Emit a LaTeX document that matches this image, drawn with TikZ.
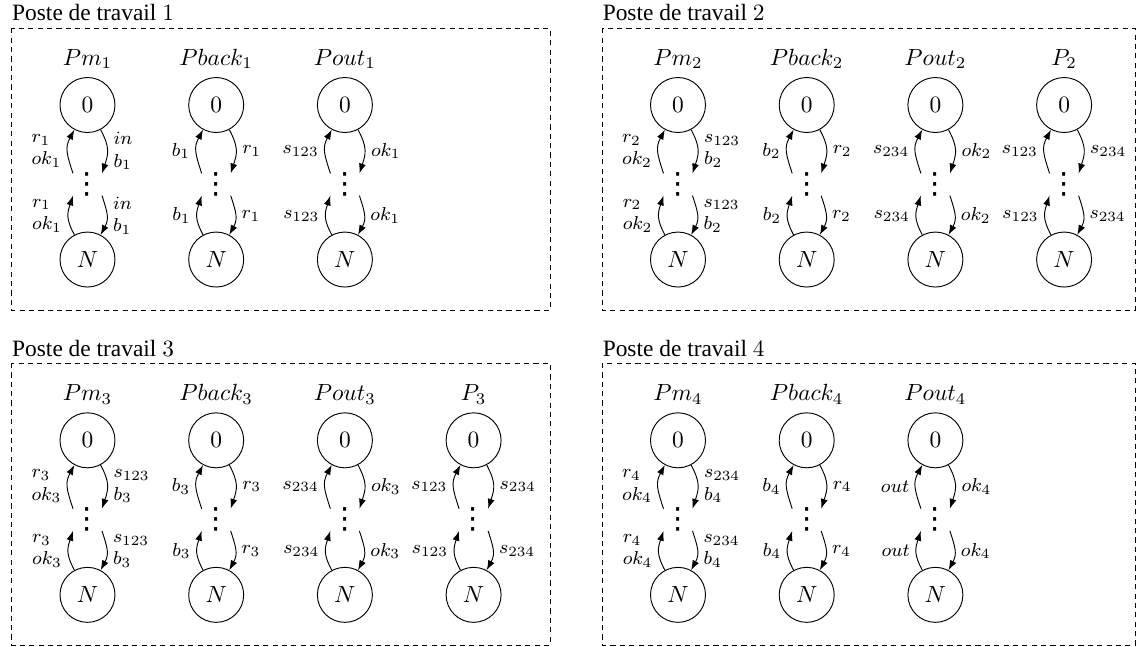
\documentclass[tikz,border=0pt]{standalone}
\usepackage[no-math]{fontspec}
\setmainfont{Liberation Serif}
\newfontfamily\symboles{DejaVu Sans}
\usetikzlibrary{arrows.meta}
\begin{document}
\begin{tikzpicture}[>={Latex[length=4.2pt, width=3pt]},
  etat/.style={draw, circle, minimum size=0.826cm, inner sep=0pt},
  points/.style={inner sep=0pt, minimum width=12pt, minimum height=9.1pt},
  vpoints/.style={inner sep=0pt, font=\symboles\fontsize{12.5}{12.5}\selectfont},
  etiq/.style={font=\footnotesize, align=left, inner sep=2.5pt},
  fleche/.style={->, thin, looseness=1.2},
  cadre/.style={dash pattern=on 2.2pt off 1.8pt}]
% Fix the picture size
\useasboundingbox (0, 0) rectangle (17.077, -9.703);

% One chain: 0 -> ... -> N
\def\chaine#1#2#3#4#5#6{
\node[etat, label=above:{$#4$}] (#1z) at (#2, #3) {$0$};
\node[points] (#1d) at (#2, {#3-1.194}) {};
\node[vpoints] (#1v) at (#1d) {⋮};
\node[etat] (#1n) at (#2, {#3-2.321}) {$N$};
\draw[fleche] (#1z) to[out=-62, in=72] node[right, etiq] {#6} (#1d.north east);
\draw[fleche] (#1d.north west) to[out=108, in=-118] node[left, etiq] {#5} (#1z);
\draw[fleche] (#1d.south east) to[out=-72, in=62] node[right, etiq] {#6} (#1n);
\draw[fleche] (#1n) to[out=118, in=-108] node[left, etiq] {#5} (#1d.south west);
}

% Poste de travail 1
\draw[cadre] (0.176, -0.425) rectangle (8.261, -4.664);
\node[anchor=base west, inner sep=0pt] (titre1) at (0.176, -0.315) {Poste de travail $1$};
\chaine{pma}{1.314}{-1.577}{Pm_1}{$r_1$\\$ok_1$}{$in$\\$b_1$}
\chaine{pba}{3.247}{-1.577}{Pback_1}{$b_1$}{$r_1$}
\chaine{poa}{5.180}{-1.577}{Pout_1}{$s_{123}$}{$ok_1$}

% Poste de travail 2
\draw[cadre] (9.046, -0.425) rectangle (17.047, -4.664);
\node[anchor=base west, inner sep=0pt] (titre2) at (9.046, -0.315) {Poste de travail $2$};
\chaine{pmb}{10.183}{-1.577}{Pm_2}{$r_2$\\$ok_2$}{$s_{123}$\\$b_2$}
\chaine{pbb}{12.116}{-1.577}{Pback_2}{$b_2$}{$r_2$}
\chaine{pob}{14.049}{-1.577}{Pout_2}{$s_{234}$}{$ok_2$}
\chaine{ppb}{15.982}{-1.577}{P_2}{$s_{123}$}{$s_{234}$}

% Poste de travail 3
\draw[cadre] (0.176, -5.452) rectangle (8.261, -9.688);
\node[anchor=base west, inner sep=0pt] (titre3) at (0.176, -5.347) {Poste de travail $3$};
\chaine{pmc}{1.314}{-6.613}{Pm_3}{$r_3$\\$ok_3$}{$s_{123}$\\$b_3$}
\chaine{pbc}{3.247}{-6.613}{Pback_3}{$b_3$}{$r_3$}
\chaine{poc}{5.180}{-6.613}{Pout_3}{$s_{234}$}{$ok_3$}
\chaine{ppc}{7.113}{-6.613}{P_3}{$s_{123}$}{$s_{234}$}

% Poste de travail 4
\draw[cadre] (9.046, -5.452) rectangle (17.047, -9.688);
\node[anchor=base west, inner sep=0pt] (titre4) at (9.046, -5.347) {Poste de travail $4$};
\chaine{pmd}{10.183}{-6.613}{Pm_4}{$r_4$\\$ok_4$}{$s_{234}$\\$b_4$}
\chaine{pbd}{12.116}{-6.613}{Pback_4}{$b_4$}{$r_4$}
\chaine{pod}{14.049}{-6.613}{Pout_4}{$out$}{$ok_4$}
\end{tikzpicture}
\end{document}
